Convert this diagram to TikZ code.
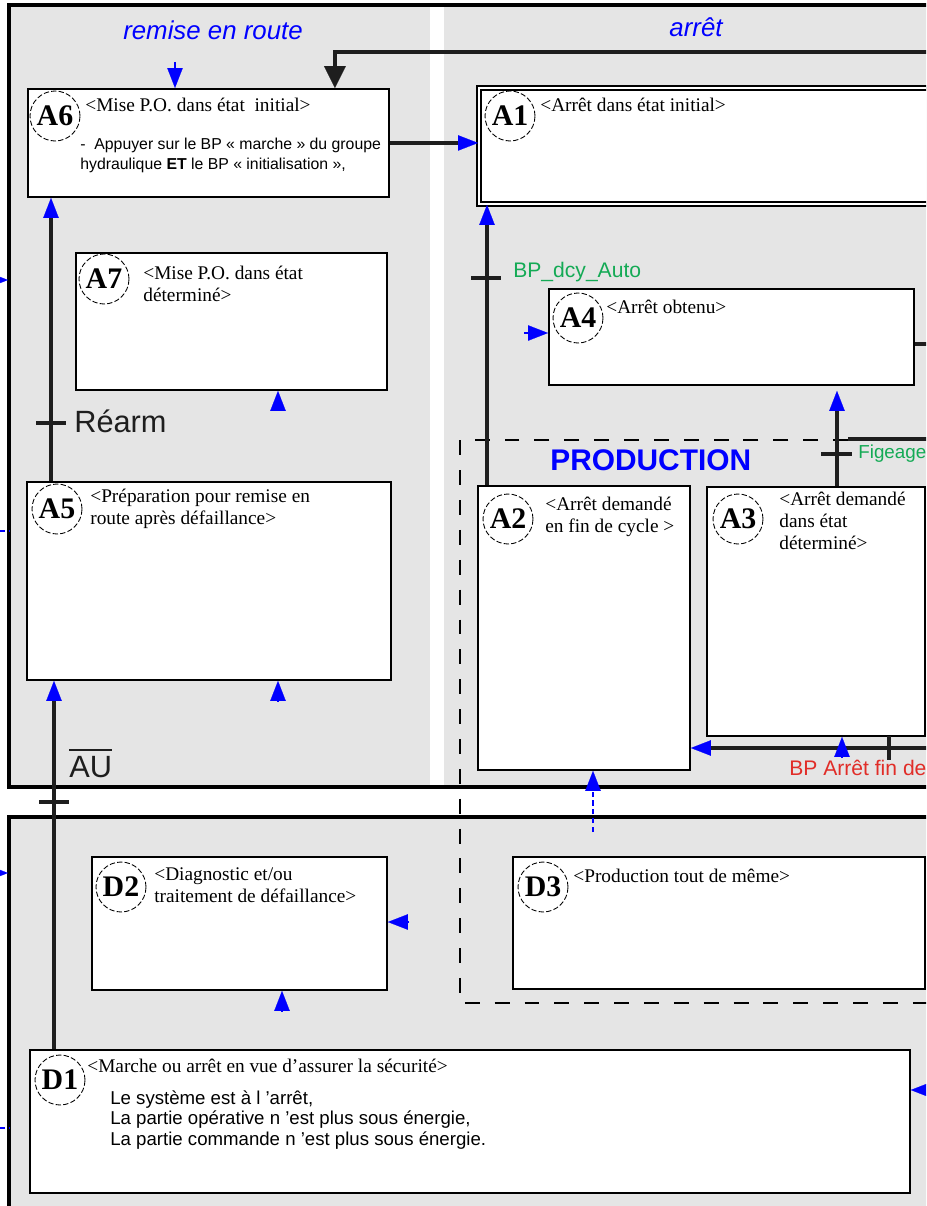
\documentclass[tikz,border=0pt]{standalone}
\usepackage{fontspec}
\setmainfont{Liberation Serif}
\setsansfont{Liberation Sans}
\usetikzlibrary{arrows.meta}
\definecolor{gemmagris}{RGB}{229,229,229}
\definecolor{gemmableu}{RGB}{0,0,255}
\definecolor{gemmavert}{RGB}{20,170,85}
\definecolor{gemmarouge}{RGB}{225,45,40}
\definecolor{gemmanoir}{RGB}{30,30,30}

\begin{document}
\begin{tikzpicture}[x=0.02cm, y=-0.02cm,
    etape/.style={draw, line width=1.1pt, fill=white, anchor=north west, inner sep=0pt},
    numero/.style={circle, draw, dash pattern=on 3pt off 1.3pt, line width=0.5pt, fill=white, minimum size=1cm, inner sep=0pt, font=\bfseries\fontsize{17}{17}\selectfont},
    titre/.style={anchor=base west, inner sep=0pt, font=\fontsize{11}{12.8}\selectfont},
    consigne/.style={anchor=base west, inner sep=0pt, font=\sffamily\fontsize{9}{11.3}\selectfont},
    zone/.style={anchor=base, inner sep=0pt, text=gemmableu, font=\sffamily\itshape\fontsize{14.7}{16}\selectfont},
    recepl/.style={anchor=base west, inner sep=0pt, font=\sffamily\fontsize{12}{12}\selectfont},
    liaison/.style={line width=2.6pt, gemmanoir},
    recept/.style={line width=2.3pt, gemmanoir},
    cadre/.style={line width=2.4pt},
    tipbleu/.style={-{Triangle[width=0.31cm, length=0.4cm, color=gemmableu, line width=0.1pt]}},
    signal/.style={gemmableu, line width=0.8pt, tipbleu}]

    % Fonds
    \useasboundingbox (0,0) rectangle (926,1206);
    \clip (0,0) rectangle (926,1206);
    \fill[gemmagris] (9,5) rectangle (960,787);
    \fill[white] (430,7) rectangle (444,786);
    \fill[gemmagris] (9,817) rectangle (960,1230);
    \draw[cadre] (960,5) -- (9,5) -- (9,787) -- (960,787);
    \draw[cadre] (960,817) -- (9,817) -- (9,1230);

    % Zones
    \node[zone] (remise) at (213,40) {remise en route};
    \node[zone] (arret) at (696,37) {arrêt};

    % Production
    \draw[dash pattern=on 8.5pt off 8.5pt, line width=0.8pt] (848,440) -- (460,440) -- (460,1003) -- (960,1003);
    \node[anchor=base west, inner sep=0pt, text=gemmableu, font=\sffamily\bfseries\fontsize{17}{17}\selectfont] (prod) at (550,470) {PRODUCTION};

    % Etapes
    \node[etape, minimum width=7.22cm, minimum height=2.16cm] (A6) at (27,88) {};
    \node[numero] (n6) at (55,116) {A6};
    \node[titre] (t6) at (85,112) {<Mise P.O. dans état~ initial>};
    \node[consigne] (c6) at (80,150) {\begin{tabular}[t]{@{}l@{}}-~ Appuyer sur le BP « marche » du groupe\\hydraulique \textbf{ET} le BP « initialisation »,\end{tabular}};

    \node[etape, double, double distance=1.3pt, line width=1.1pt, minimum width=9.64cm, minimum height=2.32cm] (A1) at (478,87) {};
    \node[numero] (n1) at (510,116) {A1};
    \node[titre] (t1) at (540,112) {<Arrêt dans état initial>};

    \node[etape, minimum width=6.22cm, minimum height=2.74cm] (A7) at (75,252) {};
    \node[numero] (n7) at (104,279) {A7};
    \node[titre] (t7) at (143,279) {\begin{tabular}[t]{@{}l@{}}<Mise P.O. dans état\\déterminé>\end{tabular}};

    \node[etape, minimum width=7.3cm, minimum height=1.92cm] (A4) at (548,288) {};
    \node[numero] (n4) at (578,318) {A4};
    \node[titre] (t4) at (606,313) {<Arrêt obtenu>};

    \node[etape, minimum width=7.28cm, minimum height=3.96cm] (A5) at (26,481) {};
    \node[numero] (n5) at (57,509) {A5};
    \node[titre] (t5) at (90,502) {\begin{tabular}[t]{@{}l@{}}<Préparation pour remise en\\route après défaillance>\end{tabular}};

    \node[etape, minimum width=4.24cm, minimum height=5.68cm] (A2) at (477,485) {};
    \node[numero] (n2) at (508,519) {A2};
    \node[titre] (t2) at (545,510) {\begin{tabular}[t]{@{}l@{}}<Arrêt demandé\\en fin de cycle >\end{tabular}};

    \node[etape, minimum width=4.36cm, minimum height=4.98cm] (A3) at (706,486) {};
    \node[numero] (n3) at (738,519) {A3};
    \node[titre] (t3) at (779,505) {\begin{tabular}[t]{@{}l@{}}<Arrêt demandé\\dans état\\déterminé>\end{tabular}};

    \node[etape, minimum width=5.9cm, minimum height=2.66cm] (D2) at (91,856) {};
    \node[numero] (nd2) at (121,887) {D2};
    \node[titre] (td2) at (154,880) {\begin{tabular}[t]{@{}l@{}}<Diagnostic et/ou\\traitement de défaillance>\end{tabular}};

    \node[etape, minimum width=8.24cm, minimum height=2.64cm] (D3) at (512,856) {};
    \node[numero] (nd3) at (543,887) {D3};
    \node[titre] (td3) at (573,882) {<Production tout de même>};

    \node[etape, minimum width=17.6cm, minimum height=2.86cm] (D1) at (29,1049) {};
    \node[numero] (nd1) at (60,1080) {D1};
    \node[titre] (td1) at (87,1072) {<Marche ou arrêt en vue d'assurer la sécurité>};
    \node[consigne, font=\sffamily\fontsize{10.6}{11.7}\selectfont] (cd1) at (110,1104) {\begin{tabular}[t]{@{}l@{}}Le système est à l ’arrêt,\\La partie opérative n ’est plus sous énergie,\\La partie commande n ’est plus sous énergie.\end{tabular}};

    % Liaisons
    \coordinate (g5) at ([xshift=0.5cm]A5.north west);
    \draw[liaison, tipbleu] (g5) -- (g5 |- A6.south);
    \coordinate (g1) at ([xshift=0.5cm]D1.north west);
    \draw[liaison, tipbleu] (g1) -- (g1 |- A5.south);
    \draw[liaison, tipbleu] (A6.east) -- (A6.east -| A1.west);
    \coordinate (e1) at (940,52);
    \coordinate (g6) at ([xshift=6.16cm]A6.north west);
    \draw[line width=2.2pt, gemmanoir, -{Triangle[width=0.44cm, length=0.44cm, line width=0.1pt]}] (e1) -| (g6);
    \coordinate (g2) at ([xshift=0.2cm]A2.north west);
    \draw[liaison, tipbleu] (g2) -- (g2 |- A1.south);
    \coordinate (g3) at ([xshift=2.62cm]A3.north west);
    \draw[liaison, tipbleu, shorten >=0.1cm] (g3) -- (g3 |- A4.south);
    \coordinate (f1) at (848,439);
    \coordinate (f2) at (940,439);
    \draw[liaison] (f1) -- (f2);
    \coordinate (e2) at (940,344);
    \draw[liaison] (e2 -| A4.east) -- (e2);
    \coordinate (e3) at (940,748);
    \draw[liaison, tipbleu] (e3) -- (e3 -| A2.east);
    \coordinate (e4) at (940,1090);
    \draw[liaison, tipbleu] (e4) -- (e4 -| D1.east);

    % Transitions
    \draw[recept] (36,423) -- (66,423);
    \draw[recept] (39,802) -- (69,802);
    \draw[recept] (471,278) -- (501,278);
    \draw[recept] (821,454) -- (852,454);
    \draw[recept] (889,736) -- (889,760);
    \node[anchor=base west, inner sep=0pt, text=gemmanoir, font=\sffamily\fontsize{17.5}{18}\selectfont] (rearm) at (74,432) {Réarm};
    \node[anchor=base west, inner sep=0pt, text=gemmanoir, font=\sffamily\fontsize{17.5}{18}\selectfont] (au) at (69,777) {\vbox{\hrule height 1.6pt\kern 2.5pt\hbox{AU}}};
    \node[recepl, text=gemmavert] (dcy) at (513,277) {BP\_dcy\_Auto};
    \node[recepl, text=gemmavert, font=\sffamily\fontsize{10.7}{11}\selectfont] (fig) at (858,458) {Figeage};
    \node[recepl, text=gemmarouge] (bpaf) at (789,775) {BP Arrêt fin de};

    % Signaux
    \coordinate (s1) at (175,62);
    \draw[signal] (s1) -- (s1 |- A6.north);
    \coordinate (s2) at (278,410);
    \draw[signal] (s2) -- (s2 |- A7.south);
    \coordinate (s3) at (278,701);
    \draw[signal] (s3) -- (s3 |- A5.south);
    \coordinate (s4) at (524,333);
    \draw[signal] (s4) -- (s4 -| A4.west);
    \coordinate (s5) at (842,758);
    \draw[signal] (s5) -- (s5 |- A3.south);
    \coordinate (s6) at (409,922);
    \draw[signal] (s6) -- (s6 -| D2.east);
    \coordinate (s7) at (282,1011);
    \draw[signal] (s7) -- (s7 |- D2.south);
    \coordinate (s8) at (593,832);
    \draw[signal, densely dashed] (s8) -- (s8 |- A2.south);
    \draw[signal] (-14,280) -- (8,280);
    \draw[signal] (-14,873) -- (8,873);
    \draw[gemmableu, line width=0.8pt, densely dashed] (0,531) -- (9,531);
    \draw[gemmableu, line width=0.8pt, densely dashed] (0,1128) -- (10,1128);
\end{tikzpicture}
\end{document}
